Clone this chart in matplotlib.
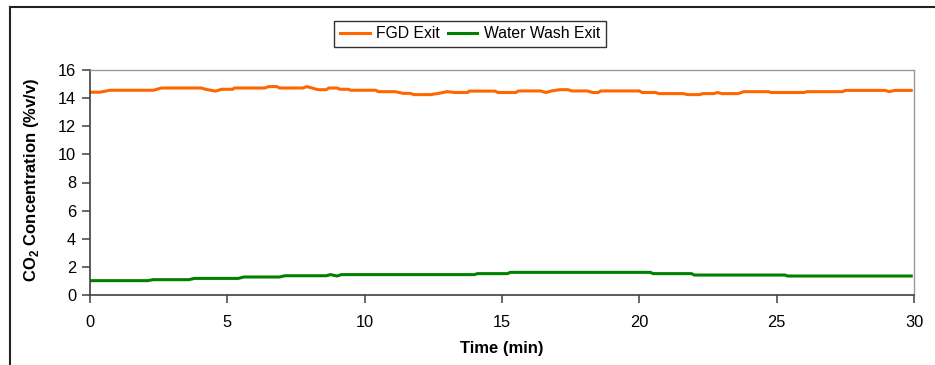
import numpy as np
import matplotlib
matplotlib.use("Agg")
import matplotlib.pyplot as plt
from matplotlib.lines import Line2D

plt.rcParams['font.family'] = ['Liberation Sans', 'DejaVu Sans']
plt.rcParams['mathtext.fontset'] = 'custom'
plt.rcParams['mathtext.rm'] = 'Liberation Sans'
plt.rcParams['mathtext.bf'] = 'Liberation Sans:bold'

# FGD exit CO2 (%v/v) vs time (min)
fgd_t = [0, 0.36, 0.73, 2.31, 2.6, 4.06, 4.2, 4.57, 4.8, 5.2, 5.25, 6.36, 6.5, 6.8,
         6.9, 7.75, 7.9, 8.3, 8.6, 8.7, 9.0, 9.1, 9.4, 9.5, 10.4, 10.5, 11.1, 11.4,
         11.65, 11.8, 12.4, 12.7, 13.0, 13.3, 13.75, 13.8, 14.75, 14.85, 15.5, 15.6,
         16.4, 16.6, 16.8, 17.1, 17.4, 17.55, 18.1, 18.3, 18.5, 18.6, 20.0, 20.1,
         20.6, 20.7, 21.6, 21.75, 22.2, 22.3, 22.7, 22.85, 23.0, 23.6, 23.8, 24.7,
         24.8, 26.0, 26.1, 27.4, 27.5, 28.95, 29.1, 29.3, 29.9]
fgd_v = [14.42, 14.42, 14.56, 14.56, 14.72, 14.72, 14.63, 14.5, 14.63, 14.63, 14.72, 14.72, 14.82, 14.82,
         14.72, 14.72, 14.82, 14.6, 14.6, 14.72, 14.72, 14.63, 14.63, 14.56, 14.56, 14.46, 14.46, 14.34,
         14.34, 14.25, 14.25, 14.34, 14.46, 14.4, 14.4, 14.5, 14.5, 14.4, 14.4, 14.51,
         14.51, 14.4, 14.51, 14.6, 14.6, 14.51, 14.51, 14.4, 14.4, 14.51, 14.51, 14.4,
         14.4, 14.32, 14.32, 14.25, 14.25, 14.32, 14.32, 14.4, 14.32, 14.32, 14.46, 14.46,
         14.4, 14.4, 14.46, 14.46, 14.55, 14.55, 14.46, 14.55, 14.55]

# Water wash exit CO2
ww_t = [0, 2.1, 2.3, 3.6, 3.8, 5.4, 5.6, 6.9, 7.1, 8.6, 8.75, 9.0, 9.15, 14.0, 14.1,
        15.2, 15.3, 20.4, 20.5, 21.9, 22.0, 25.3, 25.4, 29.9]
ww_v = [1.02, 1.02, 1.09, 1.09, 1.18, 1.18, 1.28, 1.28, 1.37, 1.37, 1.45, 1.35, 1.45, 1.45, 1.52,
        1.52, 1.61, 1.61, 1.52, 1.52, 1.42, 1.42, 1.35, 1.35]

fig = plt.figure(figsize=(9.35, 3.65), dpi=100)
ax = fig.add_axes([90 / 935, 70 / 365, 824 / 935, 225 / 365])

ax.plot(fgd_t, fgd_v, color='#FF6600', lw=2.2, label='FGD Exit')
ax.plot(ww_t, ww_v, color='#008000', lw=2.2, label='Water Wash Exit')

ax.set_xlim(0, 30)
ax.set_ylim(0, 16)
ax.set_xticks(np.arange(0, 31, 5))
ax.set_yticks(np.arange(0, 17, 2))
ax.tick_params(axis='y', direction='out', length=5.5, width=1.1, color='#404040',
               labelsize=11.8, pad=4.5)
ax.tick_params(axis='x', direction='out', length=5.5, width=1.1, color='#404040',
               labelsize=11.8, pad=9)

for s in ['left', 'bottom']:
    ax.spines[s].set_color('#404040')
    ax.spines[s].set_linewidth(1.2)
for s in ['top', 'right']:
    ax.spines[s].set_color('#999999')
    ax.spines[s].set_linewidth(1.0)

ax.set_xlabel('Time (min)', fontsize=12, fontweight='bold')
ax.set_ylabel(r'CO$_\mathbf{2}$ Concentration (%v/v)', fontsize=12, fontweight='bold')
ax.xaxis.set_label_coords(0.5, -0.205)
ax.yaxis.set_label_coords(-0.06, 0.51)

leg = fig.legend(loc='center', bbox_to_anchor=(470 / 935, 1 - 34 / 365), ncol=2,
                 fontsize=11.3, frameon=True, fancybox=False, edgecolor='black',
                 handlelength=1.9, handletextpad=0.4, columnspacing=0.5,
                 borderpad=0.35, borderaxespad=0)
leg.get_frame().set_linewidth(1.0)

# outer chart border (left and top only are visible)
fig.add_artist(Line2D([10 / 935, 10 / 935], [0, 1 - 7 / 365], color='#222222', lw=1.5))
fig.add_artist(Line2D([10 / 935, 1], [1 - 7 / 365, 1 - 7 / 365], color='#222222', lw=1.5))

fig.savefig('out.png', dpi=100)
